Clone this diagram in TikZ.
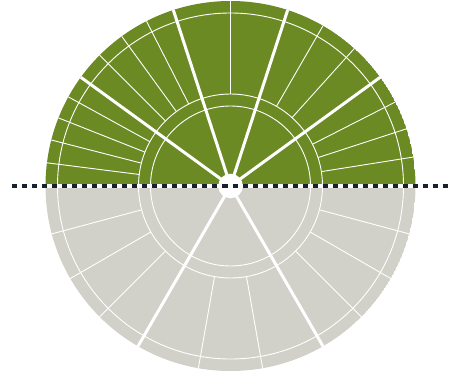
\documentclass[tikz,border=0pt]{standalone}
\definecolor{leaf}{RGB}{107,138,35}
\definecolor{stone}{RGB}{209,209,201}
\definecolor{ink}{RGB}{22,34,46}
\begin{document}
\begin{tikzpicture}[x=1pt,y=1pt,
  fineline/.style={draw=white,line width=0.9pt},
  boldline/.style={draw=white,line width=3pt},
  dashline/.style={draw=ink,line width=3.2pt,dash pattern=on 5pt off 5pt}]
\useasboundingbox (-230.5,-195) rectangle (232.5,186);
\coordinate (O) at (0,0);
\coordinate (L) at (-218,0);
\coordinate (R) at (218.5,0);
\begin{scope}
\clip (O) circle (185);
\fill[leaf] (O) -- (0:185) arc (0:180:185) -- cycle;
\fill[stone] (O) -- (180:185) arc (180:360:185) -- cycle;
\draw[fineline] (O) circle (80);
\draw[fineline] (O) circle (92);
\draw[fineline] (O) circle (173);
\foreach \a in {9,18,27,48,60,90,117,126,135,151.2,158.4,165.6,172.8,195,210,225,260,280,315,330,345}
  \draw[fineline] (\a:92) -- (\a:186);
\foreach \a in {36,72,108,144,240,300}
  \draw[boldline] (O) -- (\a:186);
\end{scope}
\fill[white] (O) circle (12.3);
\draw[white,line width=3.2pt] (-185,0) -- (185,0);
\draw[dashline] (L) -- (R);
\end{tikzpicture}
\end{document}
